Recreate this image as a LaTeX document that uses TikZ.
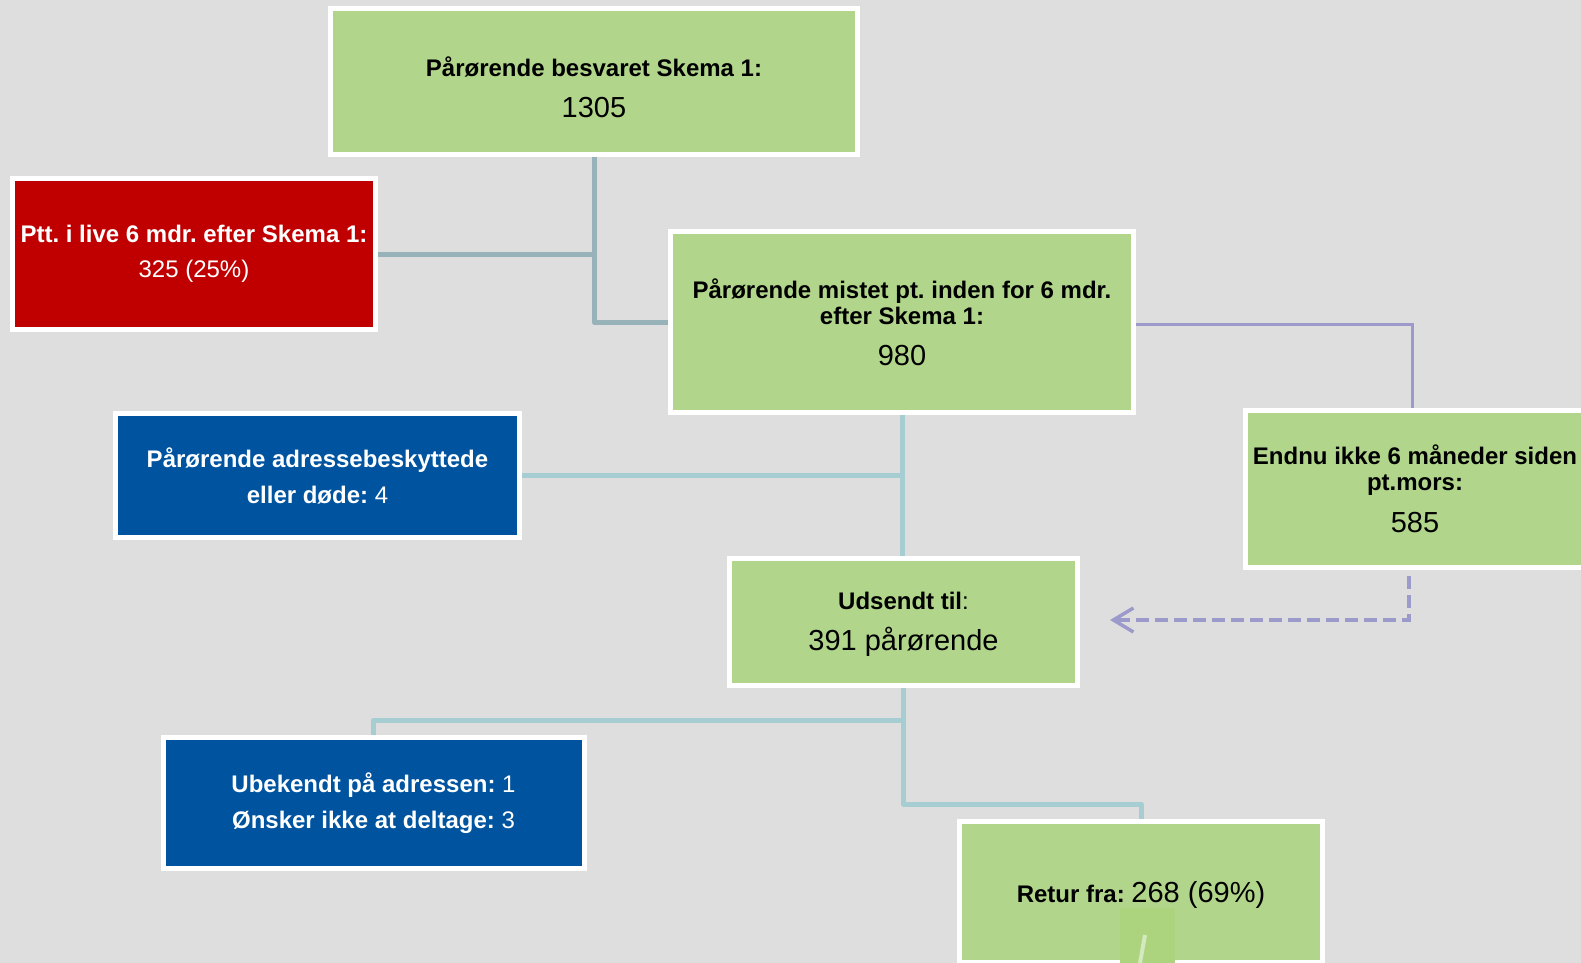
\documentclass[tikz,border=0pt]{standalone}
\usepackage{fontspec}
\setmainfont{Liberation Sans}
\usetikzlibrary{arrows.meta}
\definecolor{bggray}{HTML}{DEDEDE}
\definecolor{boxgreen}{HTML}{B1D68B}
\definecolor{patchgreen}{HTML}{ACD47E}
\definecolor{boxred}{HTML}{C00000}
\definecolor{boxblue}{HTML}{00539F}
\definecolor{linkdark}{HTML}{97B2B8}
\definecolor{linklight}{HTML}{A5CDD2}
\definecolor{linkviolet}{HTML}{9C9ACB}
\newcommand{\numsize}{\fontsize{29}{32}\selectfont}
\frenchspacing

\begin{document}
\begin{tikzpicture}[x=1pt,y=-1pt,>={Straight Barb[length=20pt,width=24pt]}]
\tikzstyle{box}=[rectangle,draw=white,line width=5pt,align=center,inner sep=0pt,font=\fontsize{24}{26}\selectfont]
\tikzstyle{link}=[line width=5pt,line join=round]
\fill[bggray] (0,0) rectangle (1581,963);
\useasboundingbox (0,0) rectangle (1581,963);

\node[box,fill=boxgreen,minimum width=527pt,minimum height=146pt] (skema) at (594,81.5) {\rule{0pt}{31pt}\textbf{Pårørende besvaret Skema 1:}\\[15pt]{\numsize 1305}};
\node[box,fill=boxred,text=white,minimum width=363pt,minimum height=151pt] (live) at (194,254) {\textbf{Ptt. i live 6 mdr. efter Skema 1:}\\[9pt]325 (25\%)};
\node[box,fill=boxgreen,minimum width=463pt,minimum height=181pt] (lost) at (902,322) {\textbf{Pårørende mistet pt. inden for 6 mdr.}\\\textbf{efter Skema 1:}\\[15pt]{\numsize 980}};
\node[box,fill=boxblue,text=white,minimum width=404pt,minimum height=124pt] (protect) at (317.5,475.5) {\textbf{Pårørende adressebeskyttede}\\[10pt]\textbf{eller døde:} 4};
\node[box,fill=boxgreen,minimum width=339pt,minimum height=157pt] (notyet) at (1415,489) {\textbf{Endnu ikke 6 måneder siden}\\\textbf{pt.mors:}\\[16pt]{\numsize 585}};
\node[box,fill=boxgreen,minimum width=348pt,minimum height=127pt] (sent) at (903.5,621.5) {\rule{0pt}{24pt}\textbf{Udsendt til}:\\[15pt]{\numsize 391 pårørende}};
\node[box,fill=boxblue,text=white,minimum width=421pt,minimum height=131pt] (unknown) at (373.5,803) {\textbf{Ubekendt på adressen:} 1\\[10pt]\textbf{Ønsker ikke at deltage:} 3};
\node[box,fill=boxgreen,minimum width=363pt,minimum height=141pt] (retur) at (1141,892) {\rule{0pt}{27pt}\textbf{Retur fra:} {\numsize 268 (69\%)}};

% faint patch in the last box
\fill[patchgreen] (1120,908) rectangle (1175,963);
\draw[white!45!boxgreen,line width=4pt] (1145,935) -- (1140,963);

\coordinate (fork) at (903.5,720);
\coordinate (bend) at (903.5,804);
\coordinate (back) at (1110,620);

\draw[link,linkdark] (skema.south) |- (lost.west);
\draw[link,linkdark] (skema.south |- live.east) -- (live.east);
\draw[link,linklight] (lost.south) -- (lost.south |- sent.north);
\draw[link,linklight] (lost.south |- protect.east) -- (protect.east);
\draw[link,linklight] (sent.south) -- (bend) -| (retur.north);
\draw[link,linklight] (fork) -| (unknown.north);
\draw[linkviolet,line width=3pt] ([yshift=-2pt]lost.east) -| ([xshift=-3pt]notyet.north);
\draw[linkviolet,line width=3.5pt,dash pattern=on 13pt off 6pt,->,shorten <=6pt] ([xshift=-6pt]notyet.south) |- (back);
\end{tikzpicture}
\end{document}
